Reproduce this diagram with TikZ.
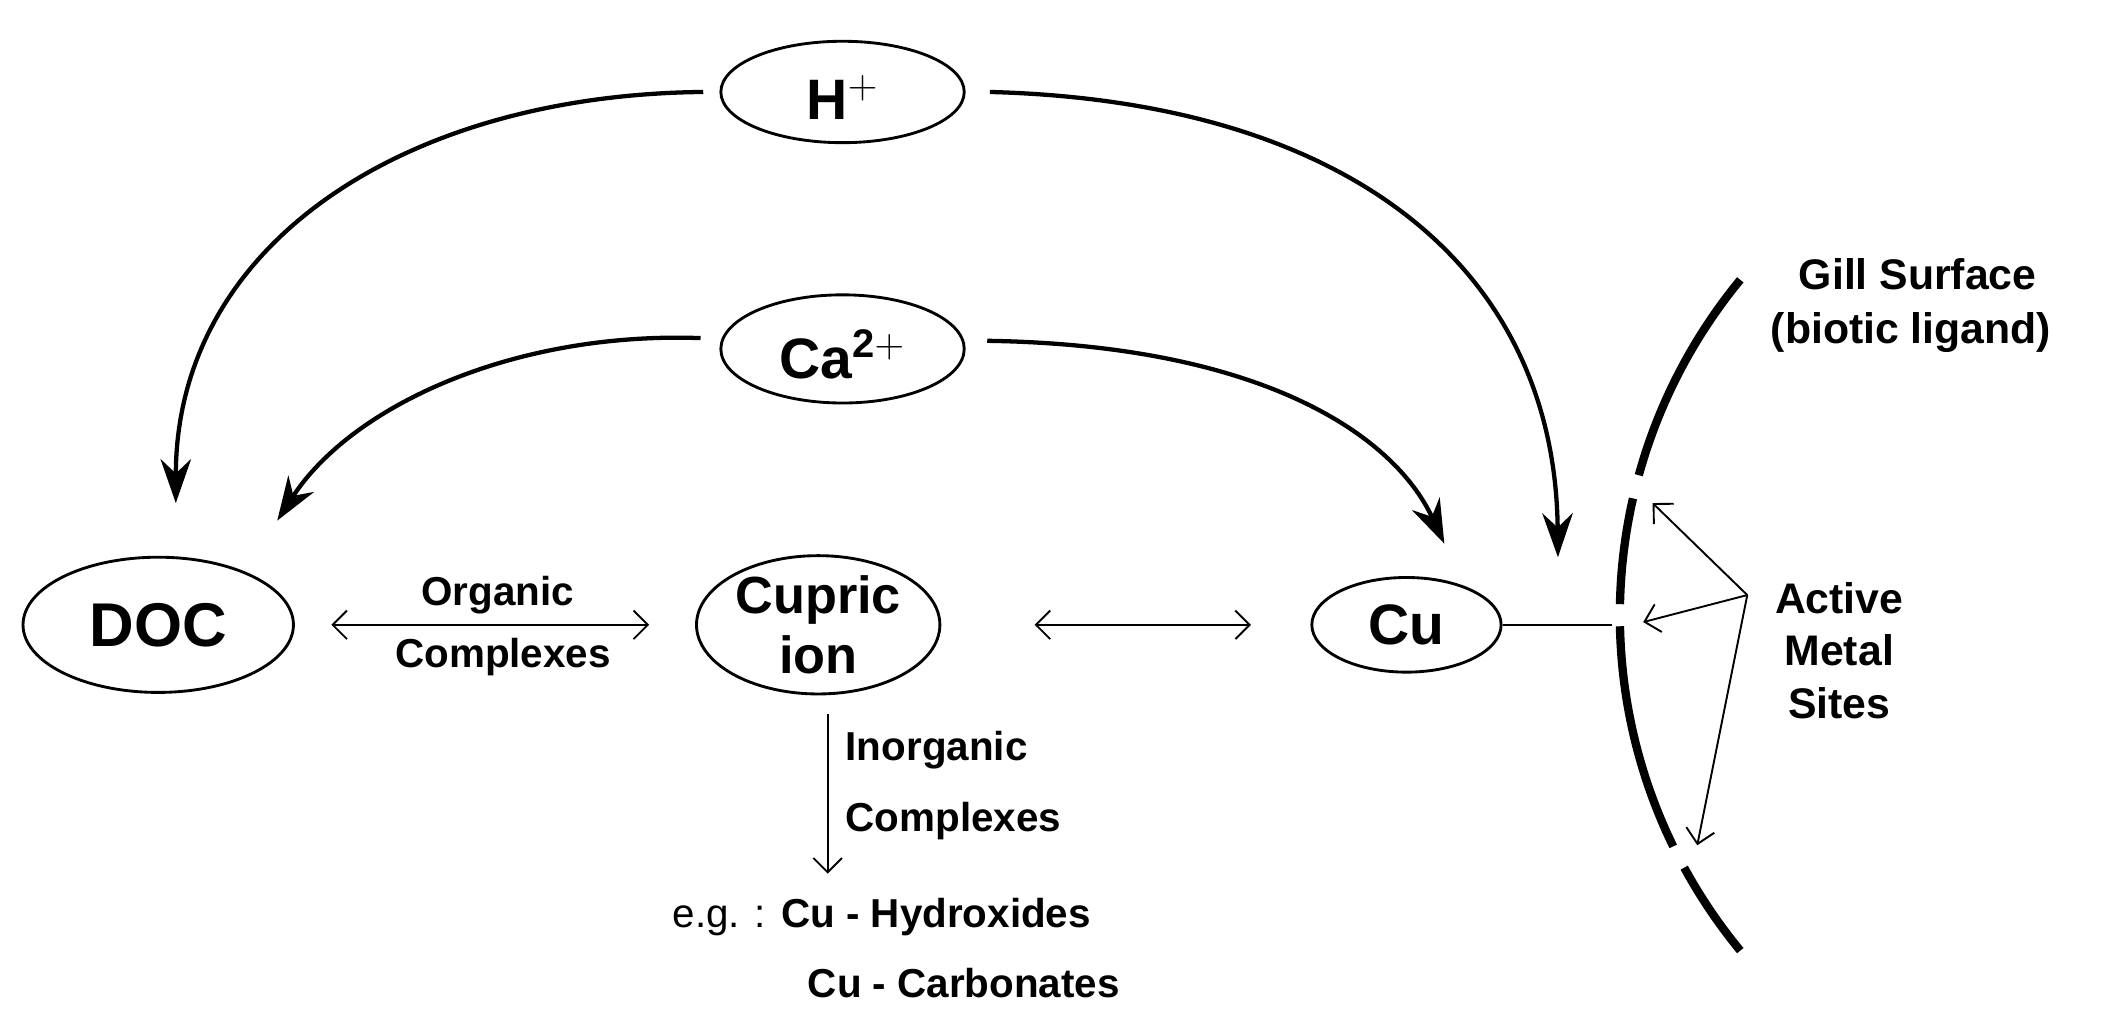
\documentclass[tikz,border=0pt]{standalone}
\usepackage{fontspec}
\setmainfont{Liberation Sans}
\usetikzlibrary{arrows.meta,shapes.geometric}
\begin{document}
\begin{tikzpicture}[x=0.02cm,y=-0.02cm,
  ell/.style={draw,ellipse,line width=1.2pt,inner sep=0pt},
  big/.style={line width=1.8pt,-{Stealth[length=0.65cm,width=0.45cm]}},
  thin/.style={line width=0.8pt},
  lbl/.style={font=\bfseries\fontsize{17}{20}\selectfont,inner sep=0pt}]
\useasboundingbox (0,0) rectangle (1558,765);
\node[ell,minimum width=3.6cm,minimum height=1.5cm] (h) at (623,68) {};
\node[font=\bfseries\fontsize{24}{28}\selectfont] at (623,72) {H$^{\mathbf +}$};
\node[ell,minimum width=3.6cm,minimum height=1.6cm] (ca) at (623,258) {};
\node[font=\bfseries\fontsize{24}{28}\selectfont] at (623,262) {Ca$^{\mathbf{2+}}$};
\node[ell,minimum width=4cm,minimum height=2cm,font=\bfseries\fontsize{26}{30}\selectfont] (doc) at (117,462) {DOC};
\node[ell,minimum width=3.6cm,minimum height=2cm,align=center,font=\bfseries\fontsize{22}{25}\selectfont] (cup) at (605,462) {Cupric\\ion};
\node[ell,minimum width=2.8cm,minimum height=1.4cm,font=\bfseries\fontsize{24}{28}\selectfont] (cu) at (1040,462) {Cu};
\coordinate (ht) at (130,372); \coordinate (hr) at (1152,412);
\coordinate (ct) at (205,385); \coordinate (cr) at (1068,402);
\draw[big] (520,68) .. controls (300,70) and (130,180) .. (ht);
\draw[big] (732,68) .. controls (1000,75) and (1150,200) .. (hr);
\draw[big] (518,250) .. controls (380,245) and (260,300) .. (ct);
\draw[big] (730,252) .. controls (930,255) and (1030,320) .. (cr);
\coordinate (a1) at (245,462); \coordinate (a2) at (480,462);
\draw[thin,{Straight Barb[length=6pt]}-{Straight Barb[length=6pt]}] (a1) -- (a2);
\node[lbl] at (368,440) {Organic};
\node[lbl] at (372,486) {Complexes};
\coordinate (b1) at (765,462); \coordinate (b2) at (925,462);
\draw[thin,{Straight Barb[length=6pt]}-{Straight Barb[length=6pt]}] (b1) -- (b2);
\coordinate (cuend) at (1192,462);
\draw[thin] (cu.east) -- (cuend);
\coordinate (d1) at (612,528); \coordinate (d2) at (612,646);
\draw[thin,-{Straight Barb[length=6pt]}] (d1) -- (d2);
\node[lbl,anchor=west] at (625,555) {Inorganic};
\node[lbl,anchor=west] at (625,607) {Complexes};
\node[lbl,anchor=west] at (497,678) {\mdseries e.g. : \bfseries Cu - Hydroxides};
\node[lbl,anchor=west] at (597,727) {Cu - Carbonates};
% gill
\foreach \a/\b in {140.5/164.6,167.2/178.8,181.2/206,208.6/219.5}
  \draw[line width=3.5pt] ([shift={(\a:7.8cm)}]31.76cm,-9.1cm) arc[start angle=\a,end angle=\b,radius=7.8cm];
\node[lbl,font=\bfseries\fontsize{18}{21}\selectfont] at (1418,203) {Gill Surface};
\node[lbl,font=\bfseries\fontsize{18}{21}\selectfont] at (1413,246) {(biotic ligand)};
\node[lbl,align=center,font=\bfseries\fontsize{18}{22}\selectfont] (ams) at (1360,481) {Active\\Metal\\Sites};
\coordinate (src) at (1292,440);
\coordinate (t1) at (1222,372); \coordinate (t2) at (1215,460); \coordinate (t3) at (1255,625);
\foreach \t in {t1,t2,t3} \draw[thin,-{Straight Barb[length=6pt]}] (src) -- (\t);
\end{tikzpicture}
\end{document}
